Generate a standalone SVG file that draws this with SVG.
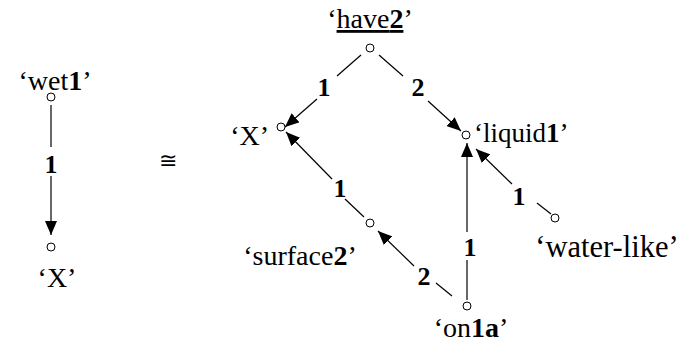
<svg xmlns="http://www.w3.org/2000/svg" width="684" height="344" viewBox="0 0 684 344">
<defs>
<marker id="arr" markerUnits="userSpaceOnUse" markerWidth="14" markerHeight="12" refX="14" refY="6" orient="auto">
<path d="M0,0 L14,6 L0,12 Z" fill="#000"/>
</marker>
<style>
text{font-family:"Liberation Serif","Times New Roman",serif;fill:#000}
.n{font-size:28px}
.l{font-size:26px;font-weight:bold;text-anchor:middle}
.b{font-weight:bold}
circle{fill:#fff;stroke:#000;stroke-width:1}
line{stroke:#000;stroke-width:1.2}
.a{marker-end:url(#arr)}
</style>
</defs>
<g id="connectors">
<line x1="51" y1="105" x2="51" y2="147"/>
<text class="l" x="51" y="173">1</text>
<line class="a" x1="51" y1="176" x2="51" y2="235"/>
<line x1="361" y1="55" x2="337" y2="76"/>
<text class="l" x="324" y="96">1</text>
<line class="a" x1="317" y1="99" x2="285" y2="127"/>
<line x1="379" y1="55" x2="403" y2="76"/>
<text class="l" x="418" y="96">2</text>
<line class="a" x1="428" y1="101" x2="461" y2="131"/>
<line x1="364" y1="217" x2="345" y2="199"/>
<text class="l" x="340" y="197">1</text>
<line class="a" x1="332" y1="179" x2="286" y2="132"/>
<line x1="452" y1="296" x2="436" y2="283"/>
<text class="l" x="424" y="285">2</text>
<line class="a" x1="414" y1="266" x2="378" y2="231"/>
<line x1="467" y1="300" x2="467" y2="260"/>
<text class="l" x="470" y="256">1</text>
<line class="a" x1="467" y1="232" x2="467" y2="143"/>
<line x1="551" y1="214" x2="537" y2="203"/>
<text class="l" x="519" y="205">1</text>
<line class="a" x1="512" y1="184" x2="476" y2="149"/>
</g>
<g id="wet1"><circle cx="51" cy="97" r="4"/><text class="n" x="55" y="90" text-anchor="middle" font-size="27">‘wet<tspan class="b">1</tspan>’</text></g>
<g id="X1"><circle cx="51" cy="247" r="4"/><text class="n" x="57" y="287" text-anchor="middle">‘X’</text></g>
<g id="iso"><text x="168" y="168" font-size="22" text-anchor="middle">≅</text></g>
<g id="have2"><circle cx="370" cy="48" r="4"/><text class="n" x="370" y="28" text-anchor="middle">‘<tspan text-decoration="underline">have<tspan class="b">2</tspan></tspan>’</text></g>
<g id="X2"><circle cx="281" cy="127" r="4"/><text class="n" x="269" y="145" text-anchor="end">‘X’</text></g>
<g id="liquid1"><circle cx="466" cy="135" r="4"/><text class="n" x="474" y="142" style="font-size:27px">‘liquid<tspan class="b">1</tspan>’</text></g>
<g id="surface2"><circle cx="370" cy="223" r="4"/><text class="n" x="300" y="265" text-anchor="middle">‘surface<tspan class="b">2</tspan>’</text></g>
<g id="waterlike"><circle cx="555" cy="218" r="4"/><text class="n" x="607" y="257" text-anchor="middle" style="font-size:30.5px">‘water-like’</text></g>
<g id="on1a"><circle cx="467" cy="306" r="4"/><text class="n" x="471" y="337" text-anchor="middle">‘on<tspan class="b">1a</tspan>’</text></g>
</svg>
